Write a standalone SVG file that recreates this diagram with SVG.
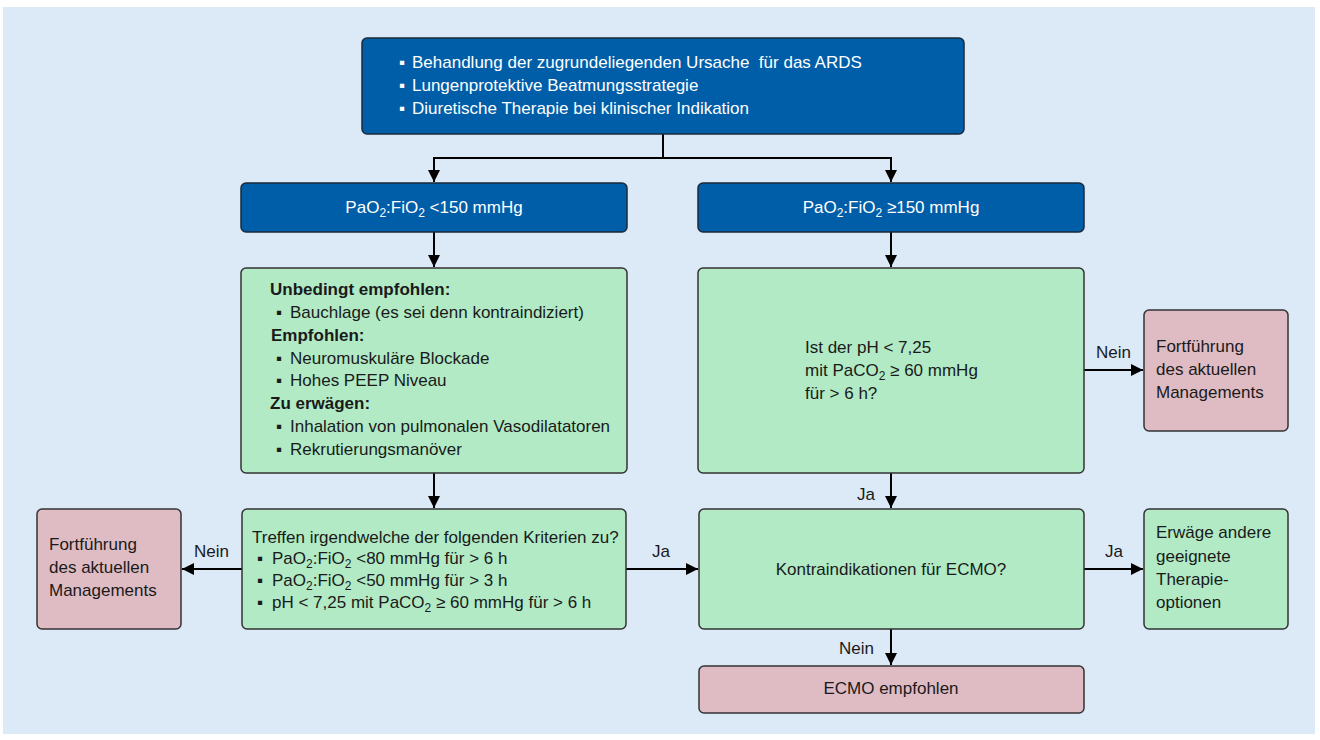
<svg xmlns="http://www.w3.org/2000/svg" width="1320" height="740" viewBox="0 0 1320 740">
<defs>
<style>
.bg{fill:#dce9f7}
.blue{fill:#005ea8;stroke:#1a2a3a;stroke-width:1.5}
.green{fill:#b1eac5;stroke:#333;stroke-width:1.5}
.pink{fill:#dfbcc4;stroke:#333;stroke-width:1.5}
text{font-family:"Liberation Sans",Arial,sans-serif;font-size:17px;fill:#1a1a1a}
.w{fill:#ffffff}
.b{font-weight:bold}
.c{text-anchor:middle}
.sub{font-size:12px}
.ln{stroke:#000;stroke-width:2;fill:none}
</style>
<marker id="a" viewBox="0 0 12 12" refX="12" refY="6" markerWidth="12" markerHeight="12" markerUnits="userSpaceOnUse" orient="auto"><path d="M0,0 L12,6 L0,12 z" fill="#000"/></marker>
</defs>
<rect class="bg" x="3" y="7" width="1312" height="727"/>

<g id="connectors">
<path class="ln" d="M663,134 V158 H434 V182" marker-end="url(#a)"/>
<path class="ln" d="M663,158 H891 V182" marker-end="url(#a)"/>
<path class="ln" d="M434,232 V267" marker-end="url(#a)"/>
<path class="ln" d="M891,232 V267" marker-end="url(#a)"/>
<path class="ln" d="M1084,370 H1143" marker-end="url(#a)"/>
<path class="ln" d="M434,473 V508" marker-end="url(#a)"/>
<path class="ln" d="M891,473 V508" marker-end="url(#a)"/>
<path class="ln" d="M242,569 H182" marker-end="url(#a)"/>
<path class="ln" d="M626,569 H698" marker-end="url(#a)"/>
<path class="ln" d="M1084,569 H1143" marker-end="url(#a)"/>
<path class="ln" d="M891,629 V665" marker-end="url(#a)"/>
<text x="1096" y="358">Nein</text>
<text x="857" y="500">Ja</text>
<text x="194" y="557">Nein</text>
<text x="652" y="557">Ja</text>
<text x="1105" y="557">Ja</text>
<text x="839" y="654">Nein</text>
</g>

<g id="top">
<rect class="blue" x="362" y="38" width="602" height="96" rx="5"/>
<text class="w" x="399" y="68">▪</text><text class="w" x="412" y="68" xml:space="preserve">Behandlung der zugrundeliegenden Ursache  für das ARDS</text>
<text class="w" x="399" y="91">▪</text><text class="w" x="412" y="91">Lungenprotektive Beatmungsstrategie</text>
<text class="w" x="399" y="114">▪</text><text class="w" x="412" y="114">Diuretische Therapie bei klinischer Indikation</text>
</g>

<g id="low">
<rect class="blue" x="241" y="183" width="386" height="49" rx="5"/>
<text class="w c" x="434" y="213">PaO<tspan class="sub" dy="4">2</tspan><tspan dy="-4">:FiO</tspan><tspan class="sub" dy="4">2</tspan><tspan dy="-4"> &lt;150 mmHg</tspan></text>
</g>

<g id="high">
<rect class="blue" x="698" y="183" width="386" height="49" rx="5"/>
<text class="w c" x="891" y="213">PaO<tspan class="sub" dy="4">2</tspan><tspan dy="-4">:FiO</tspan><tspan class="sub" dy="4">2</tspan><tspan dy="-4"> ≥150 mmHg</tspan></text>
</g>

<g id="therapy">
<rect class="green" x="241" y="268" width="386" height="205" rx="5"/>
<text class="b" x="270" y="295">Unbedingt empfohlen:</text>
<text x="276" y="318">▪</text><text x="290" y="318">Bauchlage (es sei denn kontraindiziert)</text>
<text class="b" x="271" y="341">Empfohlen:</text>
<text x="276" y="364">▪</text><text x="290" y="364">Neuromuskuläre Blockade</text>
<text x="276" y="386">▪</text><text x="290" y="386">Hohes PEEP Niveau</text>
<text class="b" x="270" y="409">Zu erwägen:</text>
<text x="276" y="432">▪</text><text x="290" y="432">Inhalation von pulmonalen Vasodilatatoren</text>
<text x="276" y="455">▪</text><text x="290" y="455">Rekrutierungsmanöver</text>
</g>

<g id="phcheck">
<rect class="green" x="698" y="268" width="386" height="205" rx="5"/>
<text x="805" y="353">Ist der pH &lt; 7,25</text>
<text x="805" y="376">mit PaCO<tspan class="sub" dy="4">2</tspan><tspan dy="-4"> ≥ 60 mmHg</tspan></text>
<text x="805" y="399">für &gt; 6 h?</text>
</g>

<g id="continue1">
<rect class="pink" x="1144" y="310" width="144" height="121" rx="5"/>
<text x="1156" y="352">Fortführung</text>
<text x="1156" y="375">des aktuellen</text>
<text x="1156" y="398">Managements</text>
</g>

<g id="criteria">
<rect class="green" x="242" y="509" width="384" height="120" rx="5"/>
<text x="252" y="543">Treffen irgendwelche der folgenden Kriterien zu?</text>
<text x="257" y="564">▪</text><text x="272" y="564">PaO<tspan class="sub" dy="4">2</tspan><tspan dy="-4">:FiO</tspan><tspan class="sub" dy="4">2</tspan><tspan dy="-4"> &lt;80 mmHg für &gt; 6 h</tspan></text>
<text x="257" y="586">▪</text><text x="272" y="586">PaO<tspan class="sub" dy="4">2</tspan><tspan dy="-4">:FiO</tspan><tspan class="sub" dy="4">2</tspan><tspan dy="-4"> &lt;50 mmHg für &gt; 3 h</tspan></text>
<text x="257" y="608">▪</text><text x="272" y="608">pH &lt; 7,25 mit PaCO<tspan class="sub" dy="4">2</tspan><tspan dy="-4"> ≥ 60 mmHg für &gt; 6 h</tspan></text>
</g>

<g id="continue2">
<rect class="pink" x="37" y="509" width="144" height="120" rx="5"/>
<text x="49" y="550">Fortführung</text>
<text x="49" y="573">des aktuellen</text>
<text x="49" y="596">Managements</text>
</g>

<g id="contra">
<rect class="green" x="699" y="509" width="385" height="120" rx="5"/>
<text class="c" x="891" y="575">Kontraindikationen für ECMO?</text>
</g>

<g id="other">
<rect class="green" x="1144" y="509" width="144" height="120" rx="5"/>
<text x="1156" y="538">Erwäge andere</text>
<text x="1156" y="562">geeignete</text>
<text x="1156" y="585">Therapie-</text>
<text x="1156" y="608">optionen</text>
</g>

<g id="ecmo">
<rect class="pink" x="699" y="666" width="385" height="47" rx="5"/>
<text class="c" x="891" y="694">ECMO empfohlen</text>
</g>
</svg>
